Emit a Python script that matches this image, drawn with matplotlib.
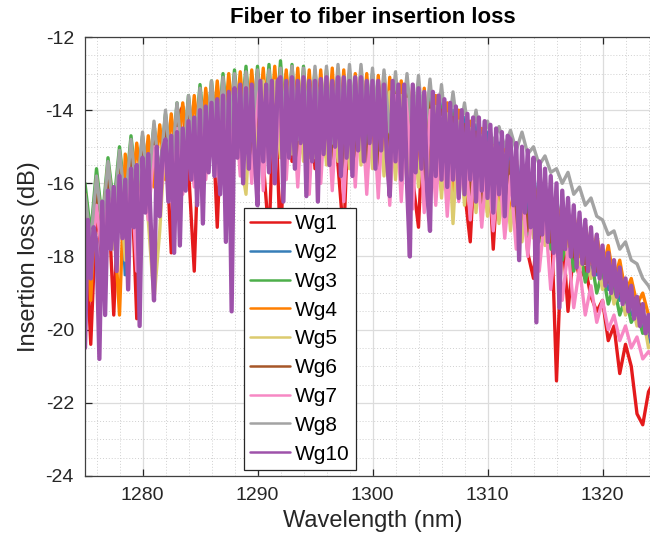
import numpy as np
import matplotlib
matplotlib.use("Agg")
import matplotlib.pyplot as plt
from matplotlib.ticker import MultipleLocator

plt.rcParams['font.family'] = ['Liberation Sans', 'DejaVu Sans']
plt.rcParams['axes.unicode_minus'] = False

# ---------------- data ----------------
# wavelength grids (nm)
wl_half = np.arange(1275.0, 1324.51, 0.5)      # 100 points, Wg1..Wg8
wl_quarter = np.arange(1275.0, 1324.76, 0.25)  # 200 points, Wg10

labels = ["Wg1", "Wg2", "Wg3", "Wg4", "Wg5", "Wg6", "Wg7", "Wg8", "Wg10"]
colors = ["#E41A1C", "#377EB8", "#4DAF4A", "#FF7F00", "#DCCB6E",
          "#A65628", "#F788C4", "#A3A3A3", "#9E52AA"]

wg1 = [-17.0, -20.4, -16.6, -18.2, -16.2, -19.6, -15.8, -17.4, -15.5, -19.7,
       -15.2, -16.9, -14.9, -16.8, -14.5, -17.9, -14.2, -13.9, -15.6, -18.4,
       -13.7, -15.4, -13.5, -17.2, -13.3, -15.3, -13.2, -15.6, -13.0, -15.2,
       -13.1, -15.4, -17.5, -13.1, -17.9, -13.0, -15.4, -13.1, -15.2, -13.1,
       -15.6, -13.2, -15.3, -13.2, -15.5, -17.5, -13.2, -15.4, -13.3, -15.2,
       -13.3, -15.6, -13.4, -15.5, -13.5, -15.8, -13.6, -15.9, -17.2, -13.7,
       -15.9, -13.9, -16.1, -14.1, -16.4, -14.3, -16.2, -17.6, -14.6, -16.5,
       -14.9, -17.8, -15.1, -16.6, -15.3, -16.4, -15.6, -17.9, -18.6, -16.1,
       -17.4, -16.5, -21.4, -17.2, -19.5, -17.8, -18.6, -18.3, -19.1, -19.5,
       -19.2, -20.3, -19.9, -21.2, -20.4, -21.0, -22.3, -22.6, -21.7, -21.4]

wg2 = [-16.6, -18.0, -16.2, -17.5, -15.8, -17.2, -15.4, -18.5, -15.1, -16.9,
       -14.8, -16.5, -14.5, -16.2, -14.2, -16.0, -14.0, -15.8, -13.8, -15.5,
       -13.6, -15.4, -13.4, -15.2, -13.3, -15.1, -13.2, -15.0, -13.1, -15.0,
       -13.0, -14.9, -13.0, -15.1, -12.95, -14.9, -13.0, -15.2, -13.0, -15.0,
       -13.1, -15.3, -13.0, -15.1, -13.0, -15.4, -13.1, -15.0, -13.1, -15.2,
       -13.2, -15.1, -13.2, -15.3, -13.3, -15.4, -13.4, -15.6, -13.5, -15.6,
       -13.6, -15.8, -13.8, -15.9, -14.0, -16.1, -14.2, -16.2, -14.4, -16.3,
       -14.6, -16.5, -14.9, -16.6, -15.1, -16.8, -15.4, -16.9, -15.7, -17.1,
       -16.0, -17.3, -16.4, -17.5, -16.8, -17.8, -17.3, -18.1, -17.8, -18.5,
       -18.2, -18.9, -18.6, -19.2, -19.0, -19.6, -19.4, -20.0, -20.2, -20.6]

wg3 = [-16.0, -17.4, -15.6, -17.0, -15.3, -16.6, -15.0, -16.4, -14.7, -16.2,
       -14.7, -16.0, -14.4, -15.8, -14.1, -15.6, -13.8, -15.5, -13.6, -15.2,
       -13.3, -15.0, -13.2, -14.9, -13.0, -14.8, -12.9, -14.7, -12.8, -14.8,
       -12.8, -14.7, -12.75, -14.9, -12.65, -14.8, -12.75, -15.0, -12.8, -14.9,
       -12.9, -15.0, -12.9, -15.1, -12.9, -15.0, -13.0, -15.2, -13.0, -15.1,
       -13.0, -15.2, -13.1, -15.3, -13.2, -15.4, -13.4, -15.5, -13.5, -15.7,
       -13.7, -15.8, -13.9, -16.0, -14.1, -16.2, -14.4, -16.4, -14.7, -16.6,
       -15.0, -16.8, -15.3, -17.0, -15.6, -17.2, -15.9, -17.4, -16.2, -17.6,
       -16.5, -17.8, -16.9, -18.1, -17.3, -18.4, -17.7, -18.7, -18.0, -19.0,
       -18.4, -19.3, -18.8, -19.6, -19.1, -19.8, -19.5, -20.1, -20.0, -20.4]

wg4 = [-16.3, -19.2, -15.9, -17.3, -15.5, -16.9, -19.6, -15.2, -16.6, -14.9,
       -16.3, -14.7, -16.1, -14.4, -15.9, -14.1, -15.6, -13.8, -15.4, -13.6,
       -15.2, -13.4, -15.0, -13.2, -14.9, -13.0, -14.8, -12.95, -14.9, -12.9,
       -14.8, -12.85, -15.0, -12.8, -14.9, -12.9, -15.1, -12.85, -15.0, -12.9,
       -15.2, -12.9, -15.1, -12.85, -15.3, -12.9, -15.2, -13.0, -15.1, -13.0,
       -15.3, -13.05, -15.4, -13.1, -15.5, -13.2, -15.7, -13.3, -15.9, -13.4,
       -16.0, -13.6, -16.2, -13.8, -16.5, -14.0, -16.4, -14.3, -16.6, -14.5,
       -16.8, -14.8, -17.0, -15.0, -17.1, -15.3, -17.3, -15.6, -17.4, -15.9,
       -17.5, -16.2, -17.6, -16.5, -17.8, -16.8, -18.0, -17.1, -18.2, -17.4,
       -18.4, -17.7, -18.7, -18.1, -19.0, -18.6, -19.3, -19.0, -19.6, -19.9]

wg5 = [-16.9, -18.2, -16.5, -17.9, -16.1, -17.8, -15.8, -18.1, -15.5, -17.4,
       -15.2, -17.0, -19.2, -17.3, -14.6, -16.2, -14.3, -16.0, -14.0, -15.8,
       -13.8, -15.6, -13.6, -15.5, -13.5, -15.4, -13.4, -15.3, -16.3, -13.3,
       -15.2, -13.2, -15.1, -13.2, -15.3, -13.2, -15.2, -13.3, -15.4, -13.3,
       -15.3, -13.3, -15.5, -13.3, -15.4, -13.3, -15.6, -13.4, -15.5, -13.4,
       -15.6, -13.5, -15.8, -13.5, -15.9, -13.6, -16.0, -13.7, -16.1, -13.8,
       -16.2, -13.9, -16.4, -14.1, -17.1, -14.3, -16.6, -14.5, -16.8, -14.7,
       -16.9, -15.0, -17.1, -15.2, -17.3, -15.5, -17.6, -15.8, -17.5, -16.1,
       -17.7, -16.5, -17.9, -16.9, -18.1, -17.3, -18.4, -17.7, -18.6, -18.0,
       -18.9, -18.4, -19.3, -18.8, -19.6, -19.2, -19.9, -19.6, -20.5, -20.4]

wg6 = [-16.7, -17.9, -16.3, -17.6, -15.9, -17.3, -15.6, -17.0, -15.3, -16.8,
       -15.0, -16.6, -14.7, -16.3, -14.4, -16.1, -14.1, -15.9, -13.9, -15.7,
       -13.7, -15.5, -13.5, -15.4, -13.3, -15.3, -13.2, -15.2, -13.1, -15.2,
       -13.1, -15.1, -13.0, -15.3, -13.0, -15.2, -13.1, -15.4, -13.1, -15.3,
       -13.1, -15.5, -13.1, -15.4, -13.2, -15.6, -13.2, -15.5, -13.2, -15.7,
       -13.3, -15.6, -13.3, -15.8, -13.4, -15.9, -13.5, -16.0, -13.6, -16.1,
       -13.8, -16.2, -14.0, -16.3, -14.2, -16.0, -14.4, -16.5, -14.6, -16.7,
       -14.9, -16.9, -15.1, -17.0, -15.4, -17.2, -15.6, -17.3, -15.9, -17.5,
       -16.2, -17.6, -16.6, -17.8, -16.9, -18.0, -17.3, -18.2, -17.6, -18.4,
       -17.9, -18.7, -18.3, -19.0, -18.7, -19.3, -19.1, -19.6, -19.8, -20.1]

wg7 = [-17.0, -18.4, -16.6, -18.0, -16.3, -17.2, -15.9, -17.5, -15.6, -18.4,
       -15.3, -17.0, -15.0, -16.7, -14.8, -16.5, -14.5, -16.3, -14.3, -16.1,
       -14.0, -15.9, -13.8, -15.8, -13.6, -15.7, -13.5, -15.8, -13.4, -16.0,
       -13.3, -16.2, -13.3, -16.0, -13.2, -15.9, -13.3, -16.1, -13.3, -16.3,
       -13.3, -16.0, -13.3, -16.2, -13.4, -16.5, -13.4, -16.1, -13.4, -16.3,
       -13.5, -16.4, -13.5, -16.6, -13.6, -16.5, -13.7, -16.7, -13.8, -16.8,
       -14.0, -16.6, -14.2, -16.9, -14.4, -16.5, -14.7, -17.0, -14.9, -17.2,
       -15.2, -17.3, -15.5, -17.5, -15.8, -17.8, -16.1, -18.0, -16.4, -18.4,
       -16.8, -18.9, -17.3, -19.2, -17.8, -19.4, -18.3, -19.6, -18.8, -19.8,
       -19.2, -20.0, -19.6, -20.3, -19.9, -20.5, -20.2, -20.8, -20.6, -20.8]

wg8 = [-16.3, -17.6, -15.8, -17.2, -15.4, -16.9, -15.1, -16.6, -14.8, -16.4,
       -14.6, -16.2, -14.3, -15.9, -14.0, -15.7, -13.8, -15.5, -13.6, -15.3,
       -13.4, -15.1, -13.2, -15.0, -13.1, -14.9, -13.0, -14.8, -12.95, -14.7,
       -12.9, -14.7, -12.9, -14.8, -12.85, -14.9, -12.8, -14.8, -12.85, -14.9,
       -12.8, -14.8, -12.8, -14.9, -12.75, -14.7, -12.75, -14.6, -12.75, -14.6,
       -12.85, -14.7, -12.9, -14.6, -12.95, -14.7, -13.0, -14.8, -13.05, -14.8,
       -13.15, -14.9, -13.3, -14.9, -13.5, -14.8, -13.8, -15.0, -14.0, -15.1,
       -14.3, -14.9, -14.45, -15.0, -14.55, -15.1, -14.6, -15.2, -15.0, -15.5,
       -15.25, -15.7, -15.6, -16.0, -15.7, -16.3, -16.1, -16.6, -16.4, -16.9,
       -17.0, -17.4, -17.3, -17.8, -17.6, -18.1, -18.2, -18.6, -18.8, -19.1]

wg10 = [-20.5, -17.0, -18.6, -17.2,
        -17.6, -20.8, -16.5, -19.6,
        -16.2, -17.8, -16.1, -18.4,
        -15.8, -17.5, -15.9, -18.9,
        -15.6, -17.2, -15.5, -19.9,
        -15.3, -16.8, -15.2, -17.4,
        -19.2, -15.0, -16.9, -15.1,
        -14.8, -16.5, -14.7, -17.9,
        -14.6, -17.7, -14.5, -16.2,
        -14.3, -15.9, -14.2, -16.6,
        -14.0, -17.1, -13.9, -15.7,
        -13.8, -15.8, -13.7, -16.3,
        -13.6, -17.6, -13.5, -19.5,
        -13.4, -15.3, -13.3, -16.0,
        -13.4, -15.6, -13.3, -15.2,
        -16.6, -13.2, -15.4, -13.3,
        -15.7, -13.2, -16.0, -13.2,
        -13.1, -16.5, -13.2, -15.3,
        -13.1, -15.6, -13.2, -14.9,
        -13.1, -16.35, -13.2, -15.4,
        -13.2, -16.5, -13.15, -15.2,
        -13.1, -15.5, -13.2, -15.0,
        -13.1, -15.8, -13.1, -15.3,
        -13.2, -15.8, -13.1, -15.1,
        -13.1, -15.4, -13.2, -14.9,
        -13.2, -15.6, -13.2, -15.1,
        -13.3, -15.3, -16.35, -13.2,
        -15.4, -13.3, -15.9, -13.3,
        -16.0, -18.0, -13.3, -15.7,
        -13.4, -15.6, -13.5, -16.2,
        -17.3, -13.5, -15.8, -13.6,
        -15.9, -13.7, -16.1, -13.8,
        -15.9, -13.9, -16.4, -14.0,
        -16.3, -14.1, -15.9, -14.2,
        -16.5, -14.2, -16.2, -14.3,
        -16.4, -14.4, -16.8, -14.5,
        -16.3, -14.6, -16.9, -14.7,
        -14.8, -16.6, -14.9, -18.1,
        -15.0, -16.8, -15.1, -17.2,
        -15.3, -19.8, -15.4, -17.4,
        -15.6, -17.6, -15.8, -17.9,
        -16.0, -19.4, -16.2, -17.8,
        -16.4, -18.0, -16.6, -18.3,
        -16.8, -18.2, -17.0, -18.4,
        -17.2, -18.5, -17.4, -18.6,
        -17.7, -18.8, -17.9, -19.0,
        -18.1, -19.1, -18.3, -19.3,
        -18.6, -19.5, -18.8, -19.7,
        -19.1, -19.9, -19.3, -20.1,
        -19.6, -20.3, -19.8, -20.5]

series = [wg1, wg2, wg3, wg4, wg5, wg6, wg7, wg8, wg10]
grids = [wl_half] * 8 + [wl_quarter]
widths = [2.4] * 8 + [3.1]

# ---------------- figure ----------------
fig = plt.figure(figsize=(6.5, 5.52), dpi=100)
ax = fig.add_axes([85 / 650, (552 - 476) / 552, 575 / 650, (476 - 37) / 552])

for x, y, c, lab, w in zip(grids, series, colors, labels, widths):
    ax.plot(x, y, color=c, lw=w, label=lab, solid_joinstyle='round',
            solid_capstyle='round')

ax.set_xlim(1275, 1325)
ax.set_ylim(-24, -12)
ax.xaxis.set_major_locator(MultipleLocator(10))
ax.xaxis.set_minor_locator(MultipleLocator(2))
ax.yaxis.set_major_locator(MultipleLocator(2))
ax.yaxis.set_minor_locator(MultipleLocator(0.5))

ax.grid(which='major', color='#DCDCDC', lw=0.9, ls='-')
ax.grid(which='minor', color='#D0D0D0', lw=0.7, ls=(0, (1, 2)))
ax.set_axisbelow(True)

ax.tick_params(which='major', direction='in', length=5, width=0.9,
               top=True, right=True, labelsize=14, colors='#262626',
               pad=8)
ax.tick_params(which='minor', length=0)
for s in ax.spines.values():
    s.set_color('#404040')
    s.set_linewidth(0.9)

ax.set_xlabel('Wavelength (nm)', fontsize=17, color='#262626', labelpad=4)
ax.set_ylabel('Insertion loss (dB)', fontsize=17, color='#262626', labelpad=4)
ax.set_title('Fiber to fiber insertion loss', fontsize=16, fontweight='bold',
             pad=10)

leg = ax.legend(loc='upper left', bbox_to_anchor=(244 / 650, 1 - 208 / 552),
                bbox_transform=fig.transFigure, borderaxespad=0,
                fontsize=15, frameon=True, fancybox=False, framealpha=1,
                edgecolor='#262626', handlelength=1.9, handletextpad=0.25,
                labelspacing=0.47, borderpad=0.3)
leg.get_frame().set_linewidth(0.9)
for h in leg.get_lines():
    h.set_linewidth(1.8)

fig.savefig('out.png', dpi=100)
